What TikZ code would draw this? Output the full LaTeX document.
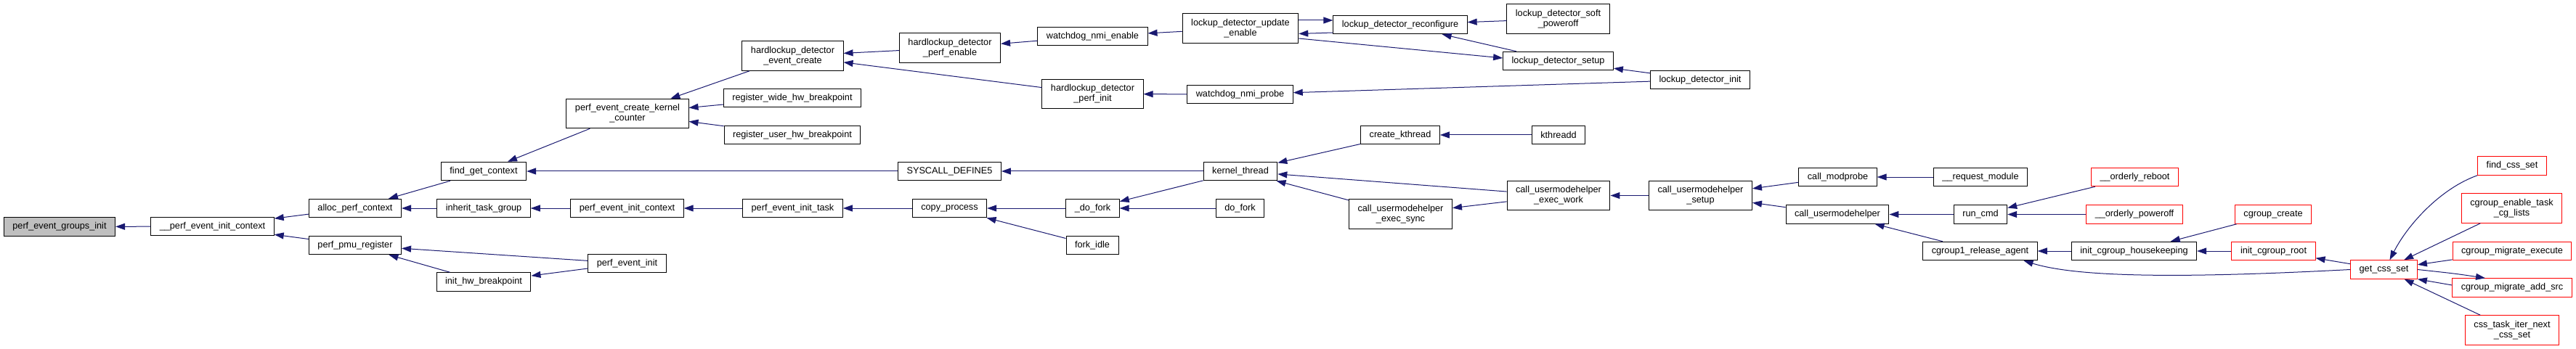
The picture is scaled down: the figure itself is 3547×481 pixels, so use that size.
\documentclass[tikz,border=0pt]{standalone}
\usepackage{fontspec}
\setmainfont{Liberation Sans}
\usepackage{xcolor}
\usetikzlibrary{arrows.meta}
\definecolor{edgeblue}{RGB}{25,25,112}
\definecolor{truncred}{RGB}{255,0,0}
\definecolor{rootgray}{RGB}{191,191,191}
\tikzset{
  fn/.style={draw=black, fill=white, line width=1pt, align=center,
    font=\fontsize{12.7}{14}\selectfont, inner xsep=12pt, inner ysep=2pt,
    minimum height=25.5pt},
  tallfn/.style={fn, minimum height=40.5pt},
  truncfn/.style={fn, draw=truncred},
  talltruncfn/.style={tallfn, draw=truncred},
  rootfn/.style={fn, fill=rootgray},
  arrow/.style={-{Triangle[length=13pt,width=9pt]}, draw=edgeblue, line width=1pt}
}

\begin{document}
\begin{tikzpicture}[x=1pt, y=-1pt]
  \useasboundingbox (0,0) rectangle (3547,481);

  \node[rootfn] (gi) at (82,312.5) {perf\_event\_groups\_init};
  \node[fn] (pic) at (292.5,312) {\_\_perf\_event\_init\_context};
  \node[fn] (apc) at (489,287) {alloc\_perf\_context};
  \node[fn] (ppr) at (489,338) {perf\_pmu\_register};
  \node[fn] (fgc) at (666,236) {find\_get\_context};
  \node[fn] (itg) at (666,287) {inherit\_task\_group};
  \node[fn] (ihb) at (666,388.5) {init\_hw\_breakpoint};
  \node[tallfn] (pekc) at (864,156.5) {perf\_event\_create\_kernel\\\_counter};
  \node[fn] (peic) at (863.5,287) {perf\_event\_init\_context};
  \node[fn] (pei) at (863.5,363) {perf\_event\_init};

  \node[tallfn] (hdec) at (1091.5,77) {hardlockup\_detector\\\_event\_create};
  \node[fn] (rwhb) at (1091,135) {register\_wide\_hw\_breakpoint};
  \node[fn] (ruhb) at (1091,186) {register\_user\_hw\_breakpoint};
  \node[fn] (peit) at (1091.5,287) {perf\_event\_init\_task};
  \node[tallfn] (hdpe) at (1308,66) {hardlockup\_detector\\\_perf\_enable};
  \node[fn] (sysc) at (1307.5,236) {SYSCALL\_DEFINE5};
  \node[fn] (cpr) at (1307.5,287) {copy\_process};
  \node[fn] (wne) at (1504.5,50) {watchdog\_nmi\_enable};
  \node[tallfn] (hdpi) at (1504.5,129.5) {hardlockup\_detector\\\_perf\_init};
  \node[fn] (dfk) at (1504.5,287) {\_do\_fork};
  \node[fn] (fki) at (1504,338) {fork\_idle};

  \node[tallfn] (lue) at (1708,39) {lockup\_detector\_update\\\_enable};
  \node[fn] (wnp) at (1707.5,130) {watchdog\_nmi\_probe};
  \node[fn] (kth) at (1708,236) {kernel\_thread};
  \node[fn] (dof) at (1707.5,287) {do\_fork};
  \node[fn] (ldr) at (1928,34) {lockup\_detector\_reconfigure};
  \node[fn] (ckt) at (1928,186) {create\_kthread};
  \node[tallfn] (cues) at (1928.5,295) {call\_usermodehelper\\\_exec\_sync};
  \node[tallfn] (lsp) at (2145.5,26) {lockup\_detector\_soft\\\_poweroff};
  \node[fn] (lds) at (2145.5,84) {lockup\_detector\_setup};
  \node[fn] (ktd) at (2146,186) {kthreadd};
  \node[tallfn] (cuew) at (2146,269.5) {call\_usermodehelper\\\_exec\_work};
  \node[fn] (ldi) at (2341,110) {lockup\_detector\_init};
  \node[tallfn] (cus) at (2341.5,269.5) {call\_usermodehelper\\\_setup};

  \node[fn] (cmp) at (2530.5,244) {call\_modprobe};
  \node[fn] (cuh) at (2530,295.5) {call\_usermodehelper};
  \node[fn] (rqm) at (2727,244) {\_\_request\_module};
  \node[fn] (rcm) at (2727,295.5) {run\_cmd};
  \node[fn] (cra) at (2726.5,346) {cgroup1\_release\_agent};
  \node[truncfn] (orb) at (2939.5,244) {\_\_orderly\_reboot};
  \node[truncfn] (opo) at (2939,295.5) {\_\_orderly\_poweroff};
  \node[fn] (ich) at (2938.5,346) {init\_cgroup\_housekeeping};
  \node[truncfn] (ccr) at (3130,295.5) {cgroup\_create};
  \node[truncfn] (icr) at (3130.5,346) {init\_cgroup\_root};
  \node[truncfn] (gcs) at (3282.5,371.5) {get\_css\_set};
  \node[truncfn] (fcs) at (3459,228.5) {find\_css\_set};
  \node[talltruncfn] (cet) at (3458.5,287) {cgroup\_enable\_task\\\_cg\_lists};
  \node[truncfn] (cme) at (3459,346) {cgroup\_migrate\_execute};
  \node[truncfn] (cma) at (3459,396.5) {cgroup\_migrate\_add\_src};
  \node[talltruncfn] (cti) at (3459,455) {css\_task\_iter\_next\\\_css\_set};

  \draw[arrow] (pic) -- (gi);
  \draw[arrow] (apc) -- (pic);
  \draw[arrow] (ppr) -- (pic);
  \draw[arrow] (fgc) -- (apc);
  \draw[arrow] (itg) -- (apc);
  \draw[arrow] (pei) -- (ppr);
  \draw[arrow] (ihb) -- (ppr);
  \draw[arrow] (pei) -- (ihb);
  \draw[arrow] (pekc) -- (fgc);
  \draw[arrow] (sysc) -- (fgc);
  \draw[arrow] (peic) -- (itg);
  \draw[arrow] (hdec) -- (pekc);
  \draw[arrow] (rwhb) -- (pekc);
  \draw[arrow] (ruhb) -- (pekc);
  \draw[arrow] (peit) -- (peic);
  \draw[arrow] (hdpe) -- (hdec);
  \draw[arrow] (hdpi) -- (hdec);
  \draw[arrow] (wne) -- (hdpe);
  \draw[arrow] (wnp) -- (hdpi);
  \draw[arrow] (kth) -- (sysc);
  \draw[arrow] (cpr) -- (peit);
  \draw[arrow] (dfk) -- (cpr);
  \draw[arrow] (fki) -- (cpr);
  \draw[arrow] (kth) -- (dfk);
  \draw[arrow] (dof) -- (dfk);
  \draw[arrow] (lue) -- (wne);
  \draw[arrow] (ldi) -- (wnp);
  \draw[arrow] ([yshift=-11pt]ldr.west) -- ([yshift=-7.5pt]lue.east);
  \draw[arrow] ([yshift=11pt]lue.east) -- ([yshift=6pt]ldr.west);
  \draw[arrow] ([yshift=-14pt]lue.east) -- ([yshift=4pt]lds.west);
  \draw[arrow] (lds) -- (ldr);
  \draw[arrow] (lsp) -- (ldr);
  \draw[arrow] (ldi) -- (lds);
  \draw[arrow] (ckt) -- (kth);
  \draw[arrow] (cuew) -- (kth);
  \draw[arrow] (cues) -- (kth);
  \draw[arrow] (cuew) -- (cues);
  \draw[arrow] (ktd) -- (ckt);
  \draw[arrow] (cus) -- (cuew);
  \draw[arrow] (cmp) -- (cus);
  \draw[arrow] (cuh) -- (cus);
  \draw[arrow] (rqm) -- (cmp);
  \draw[arrow] (rcm) -- (cuh);
  \draw[arrow] (cra) -- (cuh);
  \draw[arrow] (orb) -- (rcm);
  \draw[arrow] (opo) -- (rcm);
  \draw[arrow] (ich) -- (cra);
  \draw[arrow] (ccr) -- (ich);
  \draw[arrow] (icr) -- (ich);
  \draw[arrow] (gcs) -- (icr);
  \draw[arrow] (gcs.west) .. controls (3000,384) and (2860,382) .. ([xshift=60pt]cra.south);
  \draw[arrow] (fcs.south west) .. controls (3360,260) and (3315,310) .. ([xshift=8pt]gcs.north);
  \draw[arrow] (cet) -- (gcs);
  \draw[arrow] (cme) -- (gcs);
  \draw[arrow] (gcs.east) .. controls (3380,377) .. ([xshift=-37pt]cma.north);
  \draw[arrow] ([yshift=3.5pt]cma.west) -- (gcs.south east);
  \draw[arrow] (cti) -- (gcs);
\end{tikzpicture}
\end{document}
